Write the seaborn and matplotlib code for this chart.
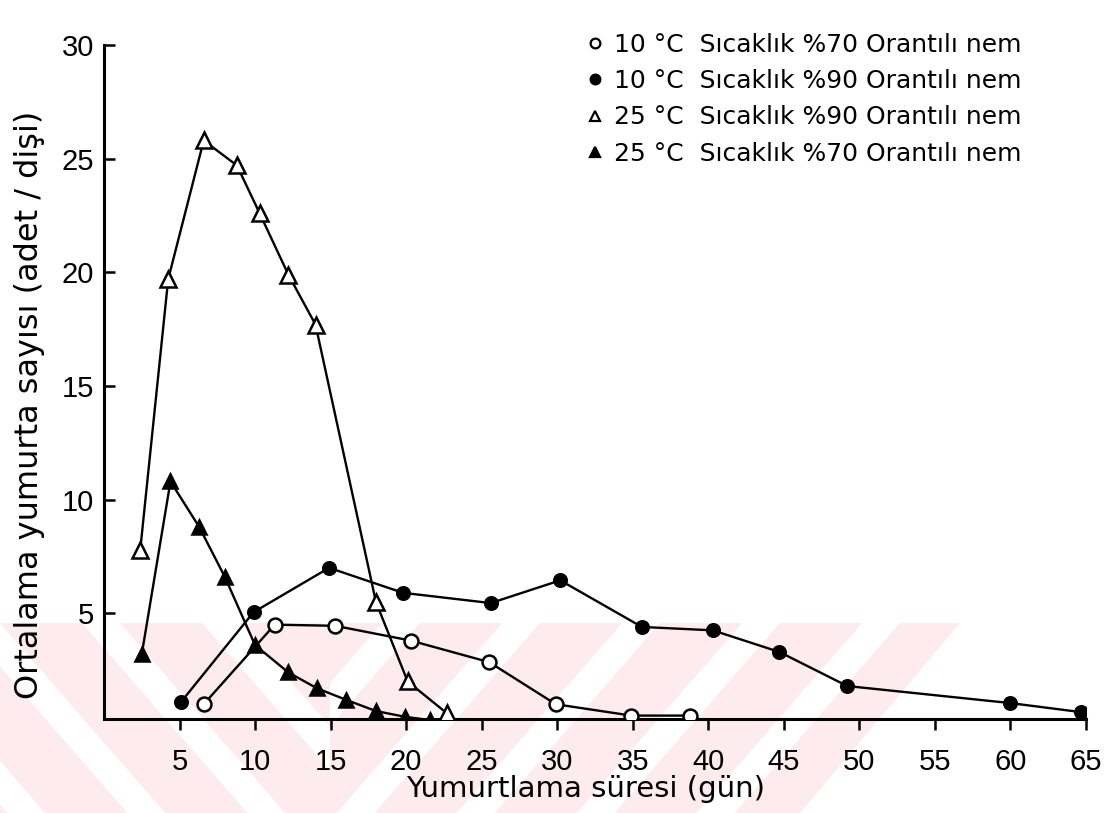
import matplotlib
matplotlib.use("Agg")
import matplotlib.pyplot as plt
import seaborn as sns
import pandas as pd
from matplotlib.lines import Line2D
from matplotlib.patches import Polygon

# ---- data ----
x_10c_70 = [6.6, 11.3, 15.3, 20.3, 25.5, 29.9, 34.9, 38.8]
y_10c_70 = [1.0, 4.5, 4.45, 3.8, 2.85, 1.0, 0.5, 0.5]

x_10c_90 = [5.1, 9.9, 14.9, 19.8, 25.6, 30.2, 35.6, 40.3, 44.7, 49.2, 60.0, 64.7]
y_10c_90 = [1.1, 5.05, 7.0, 5.9, 5.45, 6.45, 4.4, 4.25, 3.3, 1.8, 1.05, 0.65]

x_25c_90 = [2.4, 4.25, 6.6, 8.8, 10.3, 12.2, 14.0, 18.0, 20.1, 22.7]
y_25c_90 = [7.8, 19.7, 25.8, 24.7, 22.6, 19.9, 17.7, 5.5, 2.0, 0.6]

x_25c_70 = [2.5, 4.4, 6.3, 8.0, 10.0, 12.2, 14.1, 16.0, 18.0, 19.9, 21.6]
y_25c_70 = [3.2, 10.8, 8.8, 6.6, 3.6, 2.4, 1.7, 1.2, 0.7, 0.45, 0.3]

labels = [
    "10 °C  Sıcaklık %70 Orantılı nem",
    "10 °C  Sıcaklık %90 Orantılı nem",
    "25 °C  Sıcaklık %90 Orantılı nem",
    "25 °C  Sıcaklık %70 Orantılı nem",
]
x_ticks = [5, 10, 15, 20, 25, 30, 35, 40, 45, 50, 55, 60, 65]
y_ticks = [5, 10, 15, 20, 25, 30]
x_label = "Yumurtlama süresi (gün)"
y_label = "Ortalama yumurta sayısı (adet / dişi)"

sns.set_style("ticks")
plt.rcParams["font.family"] = ["Liberation Sans", "DejaVu Sans"]
plt.rcParams["text.color"] = "black"

W, H = 1108, 813
fig = plt.figure(figsize=(W / 100, H / 100), dpi=100)
fig.patch.set_facecolor("white")

# ---- faint pink scan watermark (decoration) ----
def fp(px, py):
    return (px / W, 1 - py / H)

pink = "#fdebee"
top, bot = 623, 813
regL = Polygon([fp(0, top), fp(330, top), fp(330, bot), fp(0, bot)],
               closed=True, transform=fig.transFigure, visible=False)
regR = Polygon([fp(330, top), fp(960, top), fp(800, bot), fp(330, bot)],
               closed=True, transform=fig.transFigure, visible=False)
fig.add_artist(regL)
fig.add_artist(regR)
shift = (bot - top) * 0.87
for s in range(-360, 420, 120):
    p = Polygon([fp(s, top), fp(s + 82, top), fp(s + 82 + shift, bot), fp(s + shift, bot)],
                closed=True, transform=fig.transFigure, facecolor=pink,
                edgecolor="none", zorder=-1)
    fig.add_artist(p)
    p.set_clip_path(regL)
for s in range(300, 1260, 120):
    p = Polygon([fp(s, top), fp(s + 82, top), fp(s + 82 - shift, bot), fp(s - shift, bot)],
                closed=True, transform=fig.transFigure, facecolor=pink,
                edgecolor="none", zorder=-1)
    fig.add_artist(p)
    p.set_clip_path(regR)

# ---- axes ----
ax = fig.add_axes([104 / W, 1 - 719 / H, (1086 - 104) / W, (719 - 45) / H])
ax.set_facecolor("none")

series = [
    (x_10c_70, y_10c_70, "o", False, 10),
    (x_10c_90, y_10c_90, "o", True, 9),
    (x_25c_90, y_25c_90, "^", False, 11),
    (x_25c_70, y_25c_70, "^", True, 10),
]
for xs, ys, mk, filled, ms in series:
    sns.lineplot(x=xs, y=ys, ax=ax, color="black", linewidth=1.7,
                 marker=mk, markersize=ms,
                 markerfacecolor="black" if filled else "white",
                 markeredgecolor="black", markeredgewidth=1.8,
                 sort=False, estimator=None, legend=False, zorder=3)

ax.set_xlim(0, 65)
ax.set_ylim(0.35, 30)
ax.set_xticks(x_ticks)
ax.set_xticklabels([str(t) for t in x_ticks])
ax.set_yticks(y_ticks)
ax.set_yticklabels([str(t) for t in y_ticks])
ax.tick_params(axis="x", direction="out", length=8, width=1.8, pad=13,
               labelsize=21, colors="black")
ax.tick_params(axis="y", direction="in", length=8, width=1.8, pad=7,
               labelsize=21, colors="black")
for side in ["top", "right"]:
    ax.spines[side].set_visible(False)
for side in ["left", "bottom"]:
    ax.spines[side].set_linewidth(2.2)
    ax.spines[side].set_color("black")

ax.set_xlabel(x_label, fontsize=21, color="black",
              family=["DejaVu Sans"])
ax.xaxis.set_label_coords(0.49, -0.083)
fig.text(30 / W, 1 - 405 / H, y_label, rotation=90, ha="center", va="center",
         fontsize=23, color="black", family=["DejaVu Sans"])

handles = [
    Line2D([], [], ls="none", marker="o", ms=7, mfc="white", mec="black", mew=1.6),
    Line2D([], [], ls="none", marker="o", ms=7, mfc="black", mec="black", mew=1.6),
    Line2D([], [], ls="none", marker="^", ms=7, mfc="white", mec="black", mew=1.6),
    Line2D([], [], ls="none", marker="^", ms=7, mfc="black", mec="black", mew=1.6),
]
leg = fig.legend(handles, labels, loc="upper left", bbox_to_anchor=(572 / W, 1 - 20 / H),
                 frameon=False, prop={"family": "DejaVu Sans", "size": 18},
                 handlelength=0.8, handletextpad=0.4,
                 labelspacing=0.5, borderpad=0)
for t in leg.get_texts():
    t.set_color("black")

fig.savefig("out.png", dpi=100, facecolor="white")
